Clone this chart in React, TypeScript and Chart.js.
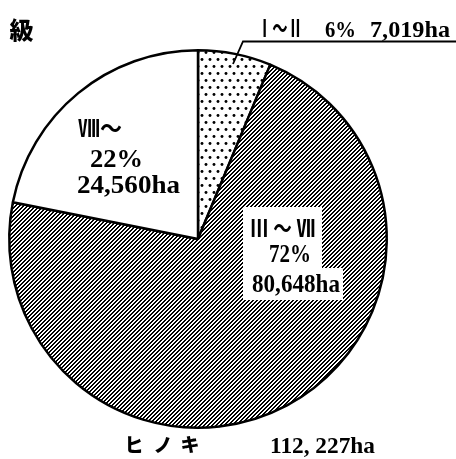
import React, { useEffect, useRef } from "react";
import { Chart, registerables } from "chart.js";

Chart.register(...registerables);

// ---- data ----
const classes = ["Ⅰ～Ⅱ", "Ⅲ～Ⅶ", "Ⅷ～"];
const areas = [7019, 80648, 24560];
const percents = ["6%", "72%", "22%"];
const areaLabels = ["7,019ha", "80,648ha", "24,560ha"];
const speciesChars = ["ヒ", "ノ", "キ"];
const totalLabel = "112, 227ha";
const headerText = "級";

const SERIF = '"Liberation Serif", "Noto Sans CJK JP", serif';
const CJK = '"Noto Sans CJK JP", sans-serif';

function makeHatch(): CanvasPattern {
  const c = document.createElement("canvas");
  c.width = 4;
  c.height = 4;
  const ctx = c.getContext("2d")!;
  const img = ctx.createImageData(4, 4);
  for (let y = 0; y < 4; y++) {
    for (let x = 0; x < 4; x++) {
      const i = (y * 4 + x) * 4;
      const black = (x + y) % 4 < 2;
      const v = black ? 0 : 255;
      img.data[i] = v;
      img.data[i + 1] = v;
      img.data[i + 2] = v;
      img.data[i + 3] = 255;
    }
  }
  ctx.putImageData(img, 0, 0);
  return ctx.createPattern(c, "repeat")!;
}

function makeDots(): CanvasPattern {
  const c = document.createElement("canvas");
  c.width = 8;
  c.height = 14;
  const ctx = c.getContext("2d")!;
  ctx.fillStyle = "#fff";
  ctx.fillRect(0, 0, 8, 14);
  ctx.fillStyle = "#000";
  [[2, 3.5], [6, 10.5]].forEach(([x, y]) => {
    ctx.beginPath();
    ctx.arc(x, y, 1.45, 0, Math.PI * 2);
    ctx.fill();
  });
  return ctx.createPattern(c, "repeat")!;
}

function fitText(
  ctx: CanvasRenderingContext2D,
  text: string,
  x: number,
  y: number,
  w: number,
  font: string
) {
  ctx.save();
  ctx.font = font;
  ctx.textAlign = "left";
  ctx.textBaseline = "alphabetic";
  const m = ctx.measureText(text).width || 1;
  ctx.translate(x, y);
  ctx.scale(w / m, 1);
  ctx.fillText(text, 0, 0);
  ctx.restore();
}

const labelPlugin = {
  id: "labels",
  afterDraw(chart: any) {
    const ctx: CanvasRenderingContext2D = chart.ctx;
    ctx.save();
    ctx.fillStyle = "#000";

    // header
    ctx.font = `900 24px ${CJK}`;
    ctx.textAlign = "center";
    ctx.textBaseline = "middle";
    ctx.fillText(headerText, 21.5, 30);

    // top label with leader
    ctx.strokeStyle = "#000";
    ctx.lineWidth = 1.8;
    ctx.beginPath();
    ctx.moveTo(233, 64);
    ctx.lineTo(243, 41.5);
    ctx.lineTo(456, 41.5);
    ctx.stroke();
    fitText(ctx, classes[0], 257, 37, 46, `bold 24px ${SERIF}`);
    fitText(ctx, percents[0], 325, 37, 31, `bold 24px ${SERIF}`);
    fitText(ctx, areaLabels[0], 370, 37, 80, `bold 24px ${SERIF}`);

    // white-slice label
    fitText(ctx, classes[2], 78, 137, 44, `bold 24px ${SERIF}`);
    fitText(ctx, percents[2], 90, 167, 53, `bold 26px ${SERIF}`);
    fitText(ctx, areaLabels[2], 77, 193, 103, `bold 26px ${SERIF}`);

    // hatched-slice label with white backing
    ctx.fillStyle = "#fff";
    ctx.fillRect(243, 207, 79, 63);
    ctx.fillRect(243, 268, 100, 32);
    ctx.fillStyle = "#000";
    fitText(ctx, "Ⅲ ～ Ⅶ", 250, 237, 65, `bold 24px ${SERIF}`);
    fitText(ctx, percents[1], 269, 262, 42, `bold 25px ${SERIF}`);
    fitText(ctx, areaLabels[1], 252, 292, 88, `bold 25px ${SERIF}`);

    // bottom caption
    ctx.font = `900 19px ${CJK}`;
    ctx.textAlign = "center";
    ctx.textBaseline = "middle";
    const xs = [134, 163, 190];
    speciesChars.forEach((ch, i) => ctx.fillText(ch, xs[i], 445));
    fitText(ctx, totalLabel, 270, 453, 105, `bold 23px ${SERIF}`);
    ctx.restore();
  },
};

export default function App() {
  const ref = useRef<HTMLCanvasElement>(null);
  useEffect(() => {
    if (!ref.current) return;
    const chart = new Chart(ref.current, {
      type: "pie",
      data: {
        labels: classes,
        datasets: [
          {
            data: areas,
            backgroundColor: [makeDots(), makeHatch(), "#ffffff"],
            borderColor: "#000",
            borderWidth: 2.5,
          },
        ],
      },
      options: {
        responsive: false,
        animation: false,
        events: [],
        layout: { padding: { left: 8, right: 68, top: 49, bottom: 30 } },
        plugins: {
          legend: { display: false },
          tooltip: { enabled: false },
        },
      },
      plugins: [labelPlugin],
    } as any);
    return () => chart.destroy();
  }, []);
  return (
    <div
      style={{
        position: "fixed",
        left: 0,
        top: 0,
        width: 456,
        height: 459,
        background: "#fff",
      }}
    >
      <canvas ref={ref} width={456} height={459} style={{ width: 456, height: 459 }} />
    </div>
  );
}
